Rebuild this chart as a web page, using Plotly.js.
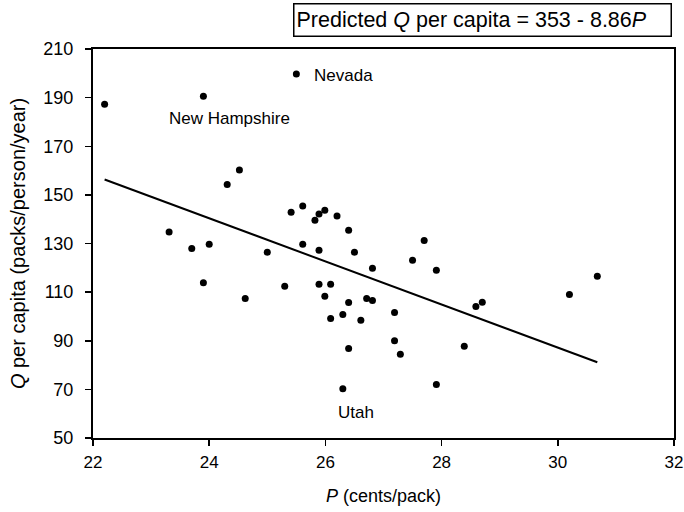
<!DOCTYPE html>
<html>
<head>
<meta charset="utf-8">
<script src="https://cdn.plot.ly/plotly-3.0.1.min.js"></script>
<style>
  html, body { margin: 0; padding: 0; background: #fff; }
  #chart { width: 684px; height: 512px; }
</style>
</head>
<body>
<div id="chart"></div>
<script>
// Cigarette price (cents per pack) and consumption (packs per person per year) by state
const price = [
  22.2, 23.9, 25.5, 24.52, 24.31, 23.31, 25.41, 25.61, 25.82, 25.89,
  25.99, 26.2, 26.4, 25.61, 25.89, 26.5, 26.81, 27.5, 27.7, 27.91,
  25.3, 25.89, 26.09, 25.99, 26.4, 26.71, 26.81, 26.09, 26.3, 26.61,
  27.19, 27.19, 27.29, 26.4, 28.39, 26.3, 27.91, 28.59, 28.7, 30.2,
  30.68, 23.7, 24.0, 25.0, 23.9, 24.62
];
const consumption = [
  187.3, 190.6, 199.7, 160.2, 154.3, 134.7, 142.9, 145.4, 139.6, 142.1,
  143.7, 141.3, 135.5, 129.7, 127.2, 126.4, 119.8, 123.1, 131.2, 119.0,
  112.4, 113.2, 113.2, 108.3, 105.7, 107.4, 106.6, 99.2, 100.8, 98.4,
  101.6, 90.0, 84.4, 86.8, 87.7, 70.3, 72.0, 104.1, 105.8, 109.0,
  116.5, 127.9, 129.7, 126.4, 113.9, 107.4
];

// Fitted regression: Q = intercept + slope * P
const intercept = 353;
const slope = -8.86;

// Labelled states
const labelNames = ["Nevada", "New Hampshire", "Utah"];
const labelP = [25.77, 24.35, 26.52];
const labelQ = [198.9, 181.4, 60.3];
const labelAnchor = ["left", "center", "center"];

const xTicks = [22, 24, 26, 28, 30, 32];
const yTicks = [50, 70, 90, 110, 130, 150, 170, 190, 210];

const pMin = Math.min(...price);
const pMax = Math.max(...price);
const fitX = [pMin, pMax];
const fitY = fitX.map(p => intercept + slope * p);

const FONT = "Liberation Sans, Arial, sans-serif";

const traces = [
  {
    x: fitX, y: fitY, type: "scatter", mode: "lines",
    line: { color: "#000", width: 2 },
    hoverinfo: "skip", showlegend: false
  },
  {
    x: price, y: consumption, type: "scatter", mode: "markers",
    marker: { color: "#000", size: 7 },
    showlegend: false
  }
];

const annotations = labelNames.map((name, i) => ({
  x: labelP[i], y: labelQ[i], xref: "x", yref: "y",
  text: name, showarrow: false, xanchor: labelAnchor[i], yanchor: "middle",
  font: { family: FONT, size: 17, color: "#000" }
}));

// Equation of the fitted line, boxed above the plot
annotations.push({
  xref: "paper", yref: "paper", x: 0.9966, y: 1.0, xanchor: "right", yanchor: "bottom",
  yshift: 12, width: 372, height: 27, align: "left", valign: "middle",
  text: "Predicted <i>Q</i> per capita = " + intercept + " - " + Math.abs(slope).toFixed(2) + "<i>P</i>",
  showarrow: false,
  bordercolor: "#000", borderwidth: 1.5, borderpad: 2, bgcolor: "#fff",
  font: { family: FONT, size: 21.5, color: "#000" }
});

const layout = {
  width: 684, height: 512,
  margin: { l: 93, r: 10, t: 49, b: 74 },
  paper_bgcolor: "#fff", plot_bgcolor: "#fff",
  font: { family: FONT, size: 18, color: "#000" },
  showlegend: false,
  xaxis: {
    range: [22, 32], tickvals: xTicks, ticktext: xTicks.map(String),
    showgrid: false, zeroline: false,
    showline: true, linecolor: "#000", linewidth: 2, mirror: true,
    ticks: "outside", ticklen: 6, tickwidth: 1.5, tickcolor: "#000",
    ticklabeloverflow: "allow", ticklabelstandoff: 2,
    tickfont: { family: FONT, size: 17, color: "#000" },
    title: { text: "<i>P</i> (cents/pack)", font: { family: FONT, size: 18, color: "#000" }, standoff: 18 }
  },
  yaxis: {
    range: [50, 210], tickvals: yTicks, ticktext: yTicks.map(String),
    showgrid: false, zeroline: false,
    showline: true, linecolor: "#000", linewidth: 2, mirror: true,
    ticks: "outside", ticklen: 6, tickwidth: 1.5, tickcolor: "#000",
    ticklabeloverflow: "allow", ticklabelstandoff: 8,
    tickfont: { family: FONT, size: 18, color: "#000" },
    title: { text: "<i>Q</i> per capita (packs/person/year)", font: { family: FONT, size: 20, color: "#000" }, standoff: 12 }
  },
  annotations: annotations
};

Plotly.newPlot("chart", traces, layout, { displayModeBar: false, staticPlot: true });
</script>
</body>
</html>
